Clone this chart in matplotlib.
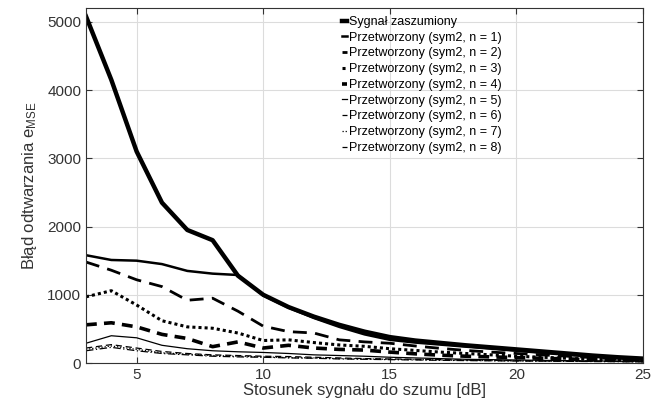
import matplotlib
matplotlib.use('Agg')
import matplotlib.pyplot as plt

plt.rcParams['font.family'] = ['Liberation Sans', 'DejaVu Sans']
plt.rcParams['mathtext.default'] = 'regular'

snr = list(range(3, 26))

noisy = [5080, 4150, 3100, 2350, 1950, 1800, 1280, 1000, 820, 680, 560, 460,
         380, 330, 295, 260, 230, 200, 170, 140, 110, 85, 65]
n1 = [1580, 1510, 1500, 1450, 1350, 1310, 1290, 990, 810, 660, 530, 420,
      340, 300, 270, 240, 210, 180, 150, 120, 95, 70, 50]
n2 = [1480, 1360, 1220, 1120, 920, 950, 760, 540, 460, 440, 340, 310,
      290, 250, 215, 185, 160, 140, 120, 100, 80, 60, 45]
n3 = [970, 1060, 850, 620, 530, 510, 440, 330, 340, 300, 265, 245,
      210, 185, 160, 140, 120, 100, 85, 70, 55, 45, 35]
n4 = [560, 590, 530, 420, 360, 240, 310, 220, 260, 220, 200, 190,
      160, 135, 115, 100, 90, 80, 70, 60, 50, 40, 35]
n5 = [290, 400, 370, 260, 210, 180, 165, 155, 140, 120, 110, 100,
      85, 75, 65, 55, 50, 45, 40, 35, 30, 28, 25]
n6 = [220, 270, 220, 170, 140, 120, 110, 100, 95, 85, 75, 65,
      60, 55, 50, 45, 40, 35, 32, 30, 28, 25, 22]
n7 = [200, 250, 200, 150, 130, 110, 100, 90, 80, 75, 65, 60,
      55, 50, 45, 40, 36, 33, 30, 28, 25, 22, 20]
n8 = [180, 230, 180, 140, 120, 100, 90, 85, 75, 70, 60, 55,
      50, 45, 40, 36, 33, 30, 28, 25, 22, 20, 18]

labels = ['Sygnał zaszumiony'] + [f'Przetworzony (sym2, n = {i})' for i in range(1, 9)]
series = [noisy, n1, n2, n3, n4, n5, n6, n7, n8]
styles = [
    dict(ls='-', lw=3.2),
    dict(ls='-', lw=1.8),
    dict(ls=(0, (5, 3)), lw=2.0),
    dict(ls=(0, (1, 1)), lw=2.2),
    dict(ls=(0, (3, 2)), lw=2.6),
    dict(ls='-', lw=0.9),
    dict(ls=(0, (5, 3)), lw=0.9),
    dict(ls=(0, (1, 1.5)), lw=0.9),
    dict(ls=(0, (6, 2, 1, 2)), lw=0.9),
]

fig = plt.figure(figsize=(6.64, 4.07), dpi=100)
ax = fig.add_axes([0.1295, 0.108, 0.839, 0.872])

for y, lab, st in zip(series, labels, styles):
    ax.plot(snr, y, color='black', label=lab, **st)

ax.set_xlim(3, 25)
ax.set_ylim(0, 5200)
ax.set_xticks([5, 10, 15, 20, 25])
ax.set_yticks([0, 1000, 2000, 3000, 4000, 5000])
ax.grid(True, color='#dcdcdc', lw=0.8)
ax.set_axisbelow(True)
ax.tick_params(direction='in', top=True, right=True, labelsize=11,
               colors='#333333', length=4)
for s in ax.spines.values():
    s.set_color('#333333')
    s.set_linewidth(0.8)

ax.set_xlabel('Stosunek sygnału do szumu [dB]', fontsize=12, color='#333333', labelpad=1)
ax.set_ylabel('Błąd odtwarzania e$_{MSE}$', fontsize=12, color='#333333', labelpad=6)

leg = ax.legend(loc='upper left', bbox_to_anchor=(0.45, 0.992), frameon=False,
                fontsize=9, handlelength=0.45, handletextpad=0.15,
                labelspacing=0.3, borderaxespad=0)

fig.savefig('out.png', dpi=100)
